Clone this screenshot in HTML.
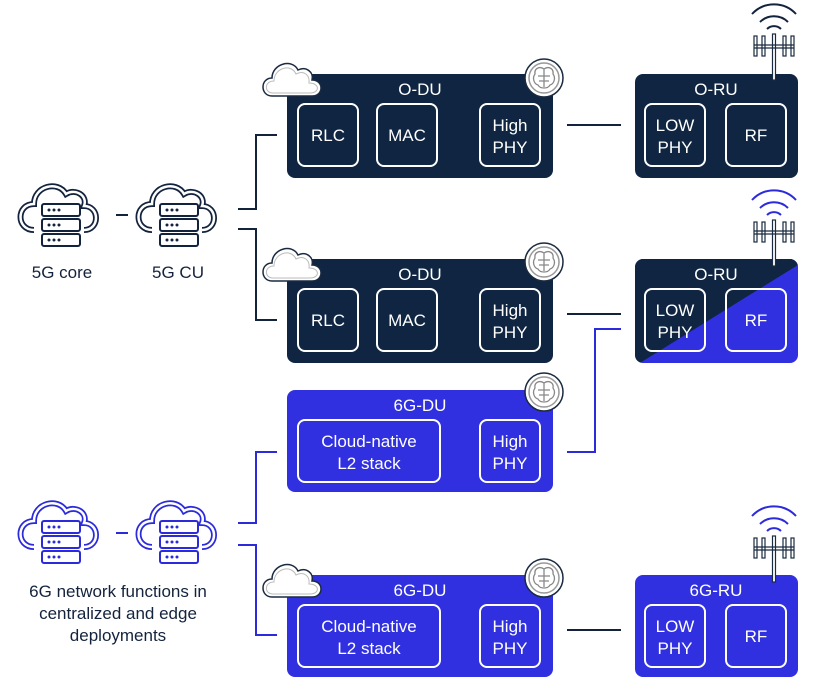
<!DOCTYPE html>
<html><head><meta charset="utf-8"><style>
html,body{margin:0;padding:0;background:#fff;width:814px;height:691px;overflow:hidden}
text{font-family:"Liberation Sans",sans-serif;}
</style></head><body>
<svg width="814" height="691" viewBox="0 0 814 691" xmlns="http://www.w3.org/2000/svg">
<defs>
  <g id="bigcloud">
    <path d="M-22,20 C-40,20 -40,-6 -22,-6 C-22,-24 2,-30 10,-16 C20,-22 32,-14 28,-4 C44,-4 44,20 28,20" fill="#fff" stroke="currentColor" stroke-width="6"/>
    <path d="M-22,20 C-40,20 -40,-6 -22,-6 C-22,-24 2,-30 10,-16 C20,-22 32,-14 28,-4 C44,-4 44,20 28,20" fill="none" stroke="#fff" stroke-width="2.5"/>
    <g fill="#fff" stroke="currentColor" stroke-width="2">
      <rect x="-14" y="-6" width="38" height="12" rx="2"/>
      <rect x="-14" y="9" width="38" height="12" rx="2"/>
      <rect x="-14" y="24" width="38" height="12" rx="2"/>
    </g>
    <g fill="currentColor">
      <circle cx="-7" cy="0" r="1.5"/><circle cx="-2" cy="0" r="1.5"/><circle cx="3" cy="0" r="1.5"/>
      <circle cx="-7" cy="15" r="1.5"/><circle cx="-2" cy="15" r="1.5"/><circle cx="3" cy="15" r="1.5"/>
      <circle cx="-7" cy="30" r="1.5"/><circle cx="-2" cy="30" r="1.5"/><circle cx="3" cy="30" r="1.5"/>
    </g>
  </g>
  <g id="smallcloud">
    <path d="M8,40 C-4,40 -4,22 8,22 C8,8 28,2 34,14 C42,10 50,16 48,24 C60,24 60,40 48,40 Z" fill="#fff" stroke="#1a2a40" stroke-width="1.5"/>
    <path d="M9,37 C0,37 0,25 10,25 C10,12 27,7 32,18 C40,14 46,19 45,27 C56,27 56,37 46,37 Z" fill="none" stroke="#bbb" stroke-width="1"/>
  </g>
  <g id="brain">
    <circle r="19" fill="#fff" stroke="#1a2a40" stroke-width="1.5"/>
    <circle r="15" fill="#fff" stroke="#999" stroke-width="1.5"/>
    <path d="M-9,-4 C-10,-10 -4,-12 0,-9 C4,-12 10,-10 9,-4 C12,0 10,6 6,7 C4,11 -4,11 -6,7 C-10,6 -12,0 -9,-4 Z M0,-9 V9 M-6,-2 H6 M-5,3 H5" fill="none" stroke="#888" stroke-width="1.3"/>
  </g>
  <g id="antenna">
    <path d="M-22,-8 A30,30 0 0 1 22,-8" fill="none" stroke="currentColor" stroke-width="2"/>
    <path d="M-14,0 A20,20 0 0 1 14,0" fill="none" stroke="currentColor" stroke-width="2"/>
    <path d="M-7,7 A10,10 0 0 1 7,7" fill="none" stroke="currentColor" stroke-width="2"/>
    <g fill="none" stroke="#1a2a40" stroke-width="1.2">
      <rect x="-1.5" y="12" width="3" height="46" fill="#fff"/>
      <rect x="-20" y="14" width="3" height="20" fill="#fff"/>
      <rect x="-12" y="14" width="3" height="20" fill="#fff"/>
      <rect x="9" y="14" width="3" height="20" fill="#fff"/>
      <rect x="17" y="14" width="3" height="20" fill="#fff"/>
      <path d="M-20,23 H20 M-20,26 H20"/>
    </g>
  </g>
</defs>

<!-- connectors 5G -->
<g fill="none" stroke="#13233d" stroke-width="2">
  <line x1="116" y1="215" x2="128" y2="215"/>
  <polyline points="238,209 256,209 256,135 277,135"/>
  <polyline points="238,229 256,229 256,320 277,320"/>
  <line x1="567" y1="125" x2="621" y2="125"/>
  <line x1="567" y1="314" x2="621" y2="314"/>
  <line x1="567" y1="630" x2="621" y2="630"/>
</g>
<g fill="none" stroke="#2b2bdc" stroke-width="2">
  <line x1="116" y1="533" x2="128" y2="533"/>
  <polyline points="238,523 256,523 256,452 277,452"/>
  <polyline points="238,545 256,545 256,635 277,635"/>
  <polyline points="567,452 595,452 595,329 621,329"/>
</g>

<!-- left clouds -->
<g color="#13233d"><use href="#bigcloud" x="56" y="210"/><use href="#bigcloud" x="174" y="210"/></g>
<g color="#2b2bdc"><use href="#bigcloud" x="56" y="527"/><use href="#bigcloud" x="174" y="527"/></g>
<g font-size="17" fill="#13233d" text-anchor="middle">
  <text x="62" y="278">5G core</text>
  <text x="178" y="278">5G CU</text>
  <text x="118" y="597">6G network functions in</text>
  <text x="118" y="619">centralized and edge</text>
  <text x="118" y="641">deployments</text>
</g>

<!-- O-DU 1 -->
<rect x="287" y="74" width="266" height="104" rx="8" fill="#0f2541"/>
<!-- O-DU 2 -->
<rect x="287" y="259" width="266" height="104" rx="8" fill="#0f2541"/>
<!-- 6G-DU 1 -->
<rect x="287" y="390" width="266" height="102" rx="8" fill="#3030e0"/>
<!-- 6G-DU 2 -->
<rect x="287" y="575" width="266" height="102" rx="8" fill="#3030e0"/>
<!-- O-RU 1 -->
<rect x="635" y="74" width="163" height="104" rx="8" fill="#0f2541"/>
<!-- O-RU 2 split -->
<clipPath id="ru2"><rect x="635" y="259" width="163" height="104" rx="8"/></clipPath>
<g clip-path="url(#ru2)">
  <rect x="635" y="259" width="163" height="104" fill="#3030e0"/>
  <polygon points="635,259 798,259 798,265 635,366" fill="#0f2541"/>
</g>
<!-- 6G-RU -->
<rect x="635" y="575" width="163" height="102" rx="8" fill="#3030e0"/>

<g fill="none" stroke="#fff" stroke-width="2">
  <rect x="298" y="104" width="60" height="62" rx="7"/>
  <rect x="377" y="104" width="60" height="62" rx="7"/>
  <rect x="480" y="104" width="60" height="62" rx="7"/>
  <rect x="298" y="289" width="60" height="62" rx="7"/>
  <rect x="377" y="289" width="60" height="62" rx="7"/>
  <rect x="480" y="289" width="60" height="62" rx="7"/>
  <rect x="298" y="420" width="142" height="62" rx="7"/>
  <rect x="480" y="420" width="60" height="62" rx="7"/>
  <rect x="298" y="605" width="142" height="62" rx="7"/>
  <rect x="480" y="605" width="60" height="62" rx="7"/>
  <rect x="645" y="104" width="60" height="62" rx="7"/>
  <rect x="726" y="104" width="60" height="62" rx="7"/>
  <rect x="645" y="289" width="60" height="62" rx="7"/>
  <rect x="726" y="289" width="60" height="62" rx="7"/>
  <rect x="645" y="605" width="60" height="62" rx="7"/>
  <rect x="726" y="605" width="60" height="62" rx="7"/>
</g>

<g fill="#fff" font-size="17" text-anchor="middle">
  <text x="420" y="95">O-DU</text>
  <text x="420" y="280">O-DU</text>
  <text x="420" y="411">6G-DU</text>
  <text x="420" y="596">6G-DU</text>
  <text x="716" y="95">O-RU</text>
  <text x="716" y="280">O-RU</text>
  <text x="716" y="596">6G-RU</text>
  <text x="328" y="141">RLC</text><text x="407" y="141">MAC</text>
  <text x="510" y="131">High</text><text x="510" y="153">PHY</text>
  <text x="328" y="326">RLC</text><text x="407" y="326">MAC</text>
  <text x="510" y="316">High</text><text x="510" y="338">PHY</text>
  <text x="369" y="447">Cloud-native</text><text x="369" y="469">L2 stack</text>
  <text x="510" y="447">High</text><text x="510" y="469">PHY</text>
  <text x="369" y="632">Cloud-native</text><text x="369" y="654">L2 stack</text>
  <text x="510" y="632">High</text><text x="510" y="654">PHY</text>
  <text x="675" y="131">LOW</text><text x="675" y="153">PHY</text>
  <text x="756" y="141">RF</text>
  <text x="675" y="316">LOW</text><text x="675" y="338">PHY</text>
  <text x="756" y="326">RF</text>
  <text x="675" y="632">LOW</text><text x="675" y="654">PHY</text>
  <text x="756" y="642">RF</text>
</g>

<!-- decorations -->
<use href="#smallcloud" x="264" y="56"/>
<use href="#smallcloud" x="264" y="241"/>
<use href="#smallcloud" x="264" y="557"/>
<use href="#brain" x="544" y="78"/>
<use href="#brain" x="544" y="262"/>
<use href="#brain" x="544" y="392"/>
<use href="#brain" x="544" y="578"/>
<g color="#13233d"><use href="#antenna" x="774" y="22"/></g>
<g color="#2b2bdc"><use href="#antenna" x="774" y="208"/><use href="#antenna" x="774" y="524"/></g>
</svg>
</body></html>
